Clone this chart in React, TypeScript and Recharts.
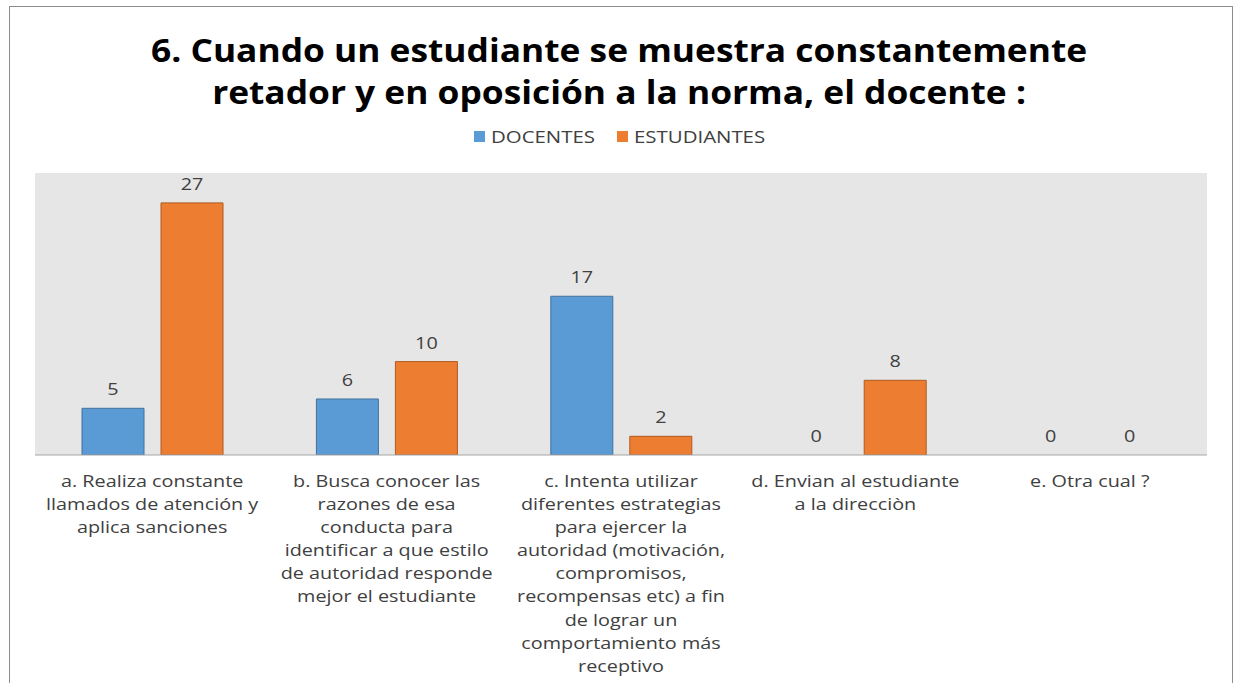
import { BarChart, Bar, XAxis, YAxis, LabelList, Rectangle } from 'recharts';

const titleLines = [
  '6. Cuando un estudiante se muestra constantemente',
  'retador y en oposición a la norma, el docente :',
];

const categories = ['a', 'b', 'c', 'd', 'e'];

const categoryLines: string[][] = [
  ['a. Realiza constante', 'llamados de atención y', 'aplica sanciones'],
  ['b. Busca conocer las', 'razones de esa', 'conducta para', 'identificar a que estilo', 'de autoridad responde', 'mejor el estudiante'],
  ['c. Intenta utilizar', 'diferentes estrategias', 'para ejercer la', 'autoridad (motivación,', 'compromisos,', 'recompensas etc) a fin', 'de lograr un', 'comportamiento más', 'receptivo'],
  ['d. Envian al estudiante', 'a la direcciòn'],
  ['e. Otra cual ?'],
];

const docentes = [5, 6, 17, 0, 0];
const estudiantes = [27, 10, 2, 8, 0];

const seriesNames = ['DOCENTES', 'ESTUDIANTES'];
const seriesColors = ['#5B9BD5', '#ED7D31'];
const seriesBorders = ['#41719C', '#AE5A21'];

const data = categories.map((c, i) => ({
  key: c,
  docentes: docentes[i],
  estudiantes: estudiantes[i],
}));

const FONT = '"Open Sans", "Noto Sans", sans-serif';
const STRETCH = 1.2;

const CategoryTick = (props: any) => {
  const { x, y, index } = props;
  const lines = categoryLines[index] || [];
  return (
    <g transform={`translate(${x},${y + 24}) scale(${STRETCH},1)`}>
      <text x={0} y={0} textAnchor="middle" fill="#404040" fontSize={16.5} fontFamily={FONT}>
        {lines.map((l, i) => (
          <tspan key={i} x={0} dy={i === 0 ? 0 : 23.1}>
            {l}
          </tspan>
        ))}
      </text>
    </g>
  );
};

const ValueLabel = (props: any) => {
  const { x, y, width, value } = props;
  const cx = Number(x) + Number(width) / 2;
  return (
    <g transform={`translate(${cx},${Number(y) - 13}) scale(${STRETCH},1)`}>
      <text x={0} y={0} textAnchor="middle" fill="#404040" fontSize={16.5} fontFamily={FONT}>
        {value}
      </text>
    </g>
  );
};

// zero bars get a tiny size so their labels still show, but draw nothing
const BarShape = (props: any) => {
  if (!props.value || props.height < 0.5) return <g />;
  return <Rectangle {...props} />;
};

const zeroMin = (value: any) => (value === 0 ? 0.01 : 0);

export default function App() {
  return (
    <div style={{ position: 'absolute', left: 0, top: 0, width: 1239, height: 683, overflow: 'hidden', background: '#fff' }}>
      <div
        style={{
          position: 'absolute',
          left: 9,
          top: 6,
          width: 1224,
          height: 720,
          border: '1px solid #8c8c8c',
          boxSizing: 'border-box',
        }}
      />
      <div
        style={{
          position: 'absolute',
          left: 0,
          top: 29,
          width: 1239,
          textAlign: 'center',
          fontFamily: FONT,
          fontWeight: 700,
          fontSize: 33,
          lineHeight: '42px',
          color: '#000',
          transform: 'scaleX(1.07)',
          transformOrigin: '626px center',
        }}
      >
        {titleLines.map((t) => (
          <div key={t}>{t}</div>
        ))}
      </div>
      <div
        style={{
          position: 'absolute',
          left: 0,
          top: 125,
          width: 1239,
          display: 'flex',
          justifyContent: 'center',
          fontFamily: FONT,
          fontSize: 17,
          color: '#404040',
        }}
      >
        {seriesNames.map((n, i) => (
          <div key={n} style={{ display: 'flex', alignItems: 'center', marginRight: i === 0 ? 24 : 0 }}>
            <span style={{ display: 'inline-block', width: 11, height: 11, background: seriesColors[i], marginRight: 6 }} />
            <span style={{ display: 'inline-block', transform: `scaleX(${STRETCH})`, transformOrigin: 'left center', marginRight: n.length * 2 }}>{n}</span>
          </div>
        ))}
      </div>
      <div style={{ position: 'absolute', left: 0, top: 0 }}>
        <BarChart
          width={1239}
          height={683}
          data={data}
          margin={{ top: 173, right: 32, bottom: 0, left: 35 }}
          barCategoryGap={45}
          barGap={17}
        >
          <rect x={35} y={173} width={1172} height={282} fill="#E7E6E6" />
          <XAxis
            dataKey="key"
            axisLine={{ stroke: '#A6A6A6', strokeWidth: 1 }}
            tickLine={false}
            tick={<CategoryTick />}
            interval={0}
            height={228}
          />
          <YAxis hide domain={[0, 30.2]} allowDataOverflow />
          <Bar
            dataKey="docentes"
            name={seriesNames[0]}
            fill={seriesColors[0]}
            stroke={seriesBorders[0]}
            strokeWidth={1}
            barSize={62}
            minPointSize={zeroMin}
            shape={<BarShape />}
            isAnimationActive={false}
          >
            <LabelList dataKey="docentes" content={<ValueLabel />} />
          </Bar>
          <Bar
            dataKey="estudiantes"
            name={seriesNames[1]}
            fill={seriesColors[1]}
            stroke={seriesBorders[1]}
            strokeWidth={1}
            barSize={62}
            minPointSize={zeroMin}
            shape={<BarShape />}
            isAnimationActive={false}
          >
            <LabelList dataKey="estudiantes" content={<ValueLabel />} />
          </Bar>
        </BarChart>
      </div>
    </div>
  );
}
